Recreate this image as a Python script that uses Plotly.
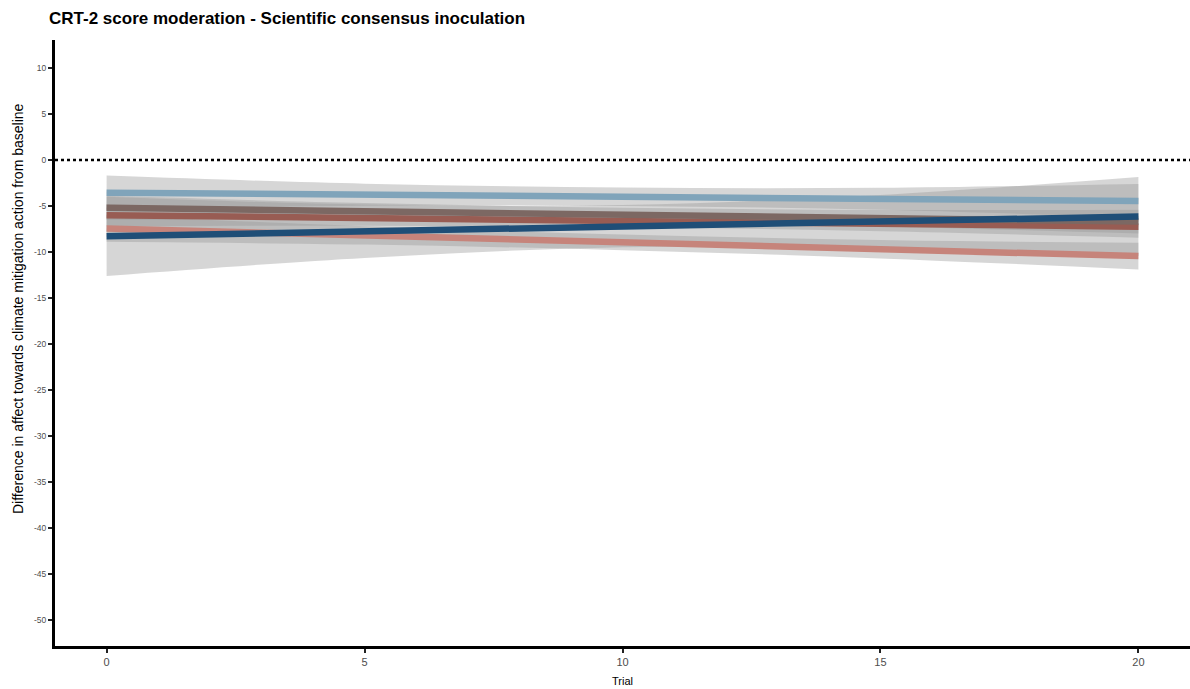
import plotly.graph_objects as go

# Trial positions at which the fitted lines and confidence bands are given
trial = [0, 5, 10, 15, 20]

# Fitted difference in affect per CRT-2 score group
fit_score0 = [-7.45, -8.20, -8.95, -9.70, -10.45]
fit_score1 = [-6.00, -6.30, -6.60, -6.90, -7.25]
fit_score2 = [-5.20, -5.58, -5.95, -6.33, -6.70]
fit_score3 = [-3.55, -3.78, -4.00, -4.22, -4.45]
fit_score4 = [-8.30, -7.75, -7.20, -6.70, -6.15]

# Confidence band bounds per group
lower_score0 = [-8.90, -9.20, -9.80, -10.70, -11.90]
upper_score0 = [-6.00, -7.20, -8.10, -8.70, -9.00]
lower_score1 = [-7.20, -7.15, -7.30, -7.75, -8.45]
upper_score1 = [-4.80, -5.45, -5.90, -6.05, -6.05]
lower_score2 = [-6.50, -6.48, -6.70, -7.23, -8.00]
upper_score2 = [-3.90, -4.68, -5.20, -5.43, -5.40]
lower_score3 = [-5.40, -4.98, -5.00, -5.42, -6.30]
upper_score3 = [-1.70, -2.58, -3.00, -3.02, -2.60]
lower_score4 = [-12.60, -10.65, -9.50, -9.60, -10.45]
upper_score4 = [-4.00, -4.85, -4.90, -3.80, -1.85]

y_ticks = list(range(-50, 11, 5))
x_ticks = [0, 5, 10, 15, 20]

groups = [
    ("0", fit_score0, lower_score0, upper_score0, "#C6847B"),
    ("1", fit_score1, lower_score1, upper_score1, "#985C53"),
    ("2", fit_score2, lower_score2, upper_score2, "#7C6863"),
    ("3", fit_score3, lower_score3, upper_score3, "#80A4BA"),
    ("4", fit_score4, lower_score4, upper_score4, "#1F4E77"),
]

band_fill = "rgba(153,153,153,0.4)"

fig = go.Figure()

# Confidence bands
for name, fit, lo, hi, color in groups:
    fig.add_trace(go.Scatter(
        x=trial, y=lo, mode="lines", line=dict(width=0, shape="spline"),
        hoverinfo="skip", showlegend=False,
    ))
    fig.add_trace(go.Scatter(
        x=trial, y=hi, mode="lines", line=dict(width=0, shape="spline"),
        fill="tonexty", fillcolor=band_fill, hoverinfo="skip", showlegend=False,
    ))

# Fitted lines
for name, fit, lo, hi, color in groups:
    fig.add_trace(go.Scatter(
        x=trial, y=fit, mode="lines", name="CRT-2 = " + name,
        line=dict(color=color, width=6.5), showlegend=False,
    ))

# Reference line at zero
fig.add_shape(
    type="line", xref="paper", yref="y", x0=0, x1=1, y0=0, y1=0,
    line=dict(color="black", width=2.5, dash="dot"), layer="above",
)

axis_common = dict(
    showgrid=False, zeroline=False, showline=True, linecolor="black",
    linewidth=3, ticks="outside", tickcolor="#222222", tickwidth=2, ticklen=4,
)

fig.update_layout(
    width=1190, height=689,
    margin=dict(l=55, r=0, t=40, b=43),
    paper_bgcolor="white", plot_bgcolor="white",
    font=dict(family="Liberation Sans, Arial, sans-serif", color="black"),
    title=dict(
        text="<b>CRT-2 score moderation - Scientific consensus inoculation</b>",
        xref="container", x=49 / 1190, xanchor="left",
        yref="container", y=1 - 18 / 689, yanchor="middle",
        font=dict(size=17, color="black"),
    ),
    xaxis=dict(
        range=[-1, 21], tickvals=x_ticks, ticktext=[str(v) for v in x_ticks],
        tickfont=dict(size=11, color="#4D4D4D"), **axis_common,
    ),
    yaxis=dict(
        range=[-52.83, 13.04], tickvals=y_ticks, ticktext=[str(v) for v in y_ticks],
        tickfont=dict(size=8.5, color="#4D4D4D"), **axis_common,
    ),
    annotations=[
        dict(
            text="Difference in affect towards climate mitigation action from baseline",
            xref="paper", yref="paper", x=(18 - 55) / 1135, y=(646 - 309) / 606,
            xanchor="center", yanchor="middle", textangle=-90, showarrow=False,
            font=dict(size=14, color="black"),
        ),
        dict(
            text="Trial", xref="paper", yref="paper",
            x=(622 - 55) / 1135, y=-(681 - 646) / 606,
            xanchor="center", yanchor="middle", showarrow=False,
            font=dict(size=11, color="black"),
        ),
    ],
)

fig.write_html("out.html")
